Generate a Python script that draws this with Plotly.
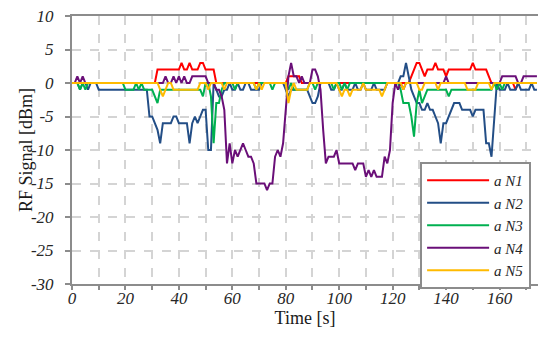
import plotly.graph_objects as go

time_s = list(range(0, 175))

# RF signal [dBm] per node, sampled every 1 s (t = 0..174)
a_N1 = ([0] * 31 + [0] + [2] * 9 + [3, 2, 2, 3, 2, 2, 2, 3, 3, 2, 2, 2, 2, 0]
        + [0] * 26 + [1, 1, 1, 1, 1]
        + [0] * 41
        + [1, 2, 3, 3, 2, 1, 2, 2, 2, 3, 2, 2, 2, 1, 2, 2, 2, 2, 2, 2, 2, 2, 2, 3, 2, 2, 2, 2, 2, 1, 0]
        + [0] * 8 + [-1] + [0] * 7)

a_N2 = ([0, 0, 0, -1, 0, 0, -1, 0, 0, 0] + [-1] * 19
        + [-5, -5, -6, -7, -9, -6, -6, -6, -6, -5, -5, -6, -6, -6, -6, -9, -6, -5, -6, -5, -4, -4, -10, -10, 0]
        + [-1, -2, -2, -1, -1, 0, -1, -1, 0, -1, -1, 0, 0, -1, -1, -1, -1]
        + [0] * 9
        + [-1, -2, -1, -1, -1, -1, -1, -1, -1, -2, -3, -3, -2, 0, 0, 0, 0, -1, -1, 0, -1, -1, 0, -1, -1, -1, 0,
           -1, -1, 0, -1, -1, -1, 0, -1, -1, -1, -1, 0, 0, 0, 0, 0, 1, 1, 3, 1, -1, -2, -3, -3, -4, -4, -3,
           -4, -4, -5, -6, -9, -6, -6, -5, -4, -3, -3, -3, -4, -4, -4, -4, -5, -4, -4, -4, -4, -9, -9, -11, -5, 0]
        + [-1, -1, -1, 0, -1, -1, -1, 0, -1, -1, -1, -1, 0, -1, -1])

a_N3 = ([0, 0, 0, -1, 0, -1, 0] + [0] * 13
        + [-1, -1, -1, -1, 0, -1, 0, -1, -1, -1, -1, -2, -3, -1] + [-1] * 15
        + [-2, 0, 0, -2, -9, -3, -3, -1, 0]
        + [0, 0, 0, -1, 0, 0, 0, 0, 0, 0, 0, -1, 0, 0, 0, 0, 0, -1, 0, 0, 0, 0, 0, -1, 0]
        + [-1, -1, -1, -1, -1, -1, 0, 0, -1, 0, 0, 0, 0, 0, 0, -1, 0, 0, -1, 0, -1]
        + [0] * 19
        + [-1, -3, -3, -3, -5, -8, -3, -1, -3, -2] + [-1] * 8 + [-2] + [-1] * 16
        + [0, -1, 0, -1, 0] + [0] * 15)

a_N4 = ([0, 0, 1, 0, 1, 0] + [0] * 29
        + [1, 0, 0, 1, 0, 1, 0, 1, 0, 0, 1, 1, 1, 1, 1, 1, 0, 0, 0, -1, -1, -2, -4]
        + [-12, -9, -12, -10, -11, -10, -9, -10, -11, -11, -12, -15, -15, -15, -15, -16, -15, -15,
           -11, -10, -11, -9, -4, 1, 3, 1, 1]
        + [0, 1, 0, 0, 0, 2, 2, 1, -1, -7, -12, -11, -11, -11, -10, -12, -12, -12, -12, -12, -12,
           -13, -12, -12, -12, -14, -13, -14, -13, -14, -14, -14, -11, -12, -10, -3, 0, -1, 0, -1]
        + [0] * 15 + [1] + [0] * 20 + [1] * 6 + [0, 0] + [1] * 6)

a_N5 = ([0] * 33 + [-1, -2, -1, 0, 0] + [-1] * 10
        + [0, 0, 0, -1, 0, 0, 0, 0, 0, -1] + [0] * 11 + [-1, 0, -1] + [0] * 9
        + [-3, -1, 0, -1, -1, -1, -1, -1] + [0] * 11
        + [-1, -2, -1, -1, -2, -1, -1, -1, -1, 0, -1, -1, -1, -1, -1, -1, -2, -1, 0]
        + [0, 0, 0, 0, 0, -1, 0, 0, 0, 0, 0, -1, -1] + [0] * 5 + [-1] + [0] * 10
        + [-1, -1, -1, -1] + [0] * 5 + [-1] + [0] * 17)

series_names = ["a N1", "a N2", "a N3", "a N4", "a N5"]
series_values = [a_N1, a_N2, a_N3, a_N4, a_N5]
series_colors = ["#FF0000", "#234E86", "#00B050", "#6A0F78", "#FFBA00"]

y_tick_vals = [10, 5, 0, -5, -10, -15, -20, -25, -30]
y_tick_text = ["10", "5", "0", "-5", "-10", "-15", "-20", "-25", "-30"]
x_tick_vals = list(range(0, 171, 10))
x_tick_text = [str(v) if v % 20 == 0 else "" for v in x_tick_vals]
y_title = "RF Signal [dBm]"
x_title = "Time [s]"

fig = go.Figure()
for name, vals, col in zip(series_names, series_values, series_colors):
    n = min(len(vals), len(time_s))
    fig.add_trace(go.Scatter(x=time_s[:n], y=vals[:n], mode="lines", name=name,
                             line=dict(color=col, width=2)))

serif = "Times New Roman, Liberation Serif, serif"
tick_font = dict(family=serif, size=17, color="#262626", style="italic")
title_font = dict(family=serif, size=18, color="#1a1a1a")

fig.update_layout(
    width=538, height=340, autosize=False,
    margin=dict(l=72, r=0, t=16, b=56),
    paper_bgcolor="white", plot_bgcolor="white",
    showlegend=True,
    legend=dict(x=0.747, y=0.455, xanchor="left", yanchor="top",
                bgcolor="white", bordercolor="#8c8c8c", borderwidth=2,
                font=dict(family=serif, size=15, color="#262626", style="italic"),
                tracegroupgap=0, itemwidth=62),
    xaxis=dict(range=[0, 174.4], tickvals=x_tick_vals, ticktext=x_tick_text,
               showgrid=True, gridcolor="#d4d4d4", griddash="dash", gridwidth=1.5,
               showline=True, linecolor="#8c8c8c", linewidth=2, mirror=True,
               ticks="outside", ticklen=4, tickcolor="#8c8c8c", tickwidth=1.5,
               ticklabelstandoff=-6, ticklabeloverflow="allow",
               zeroline=False,
               tickfont=tick_font,
               title=dict(text=x_title, font=title_font, standoff=2)),
    yaxis=dict(range=[-30, 10], tickvals=y_tick_vals, ticktext=y_tick_text,
               showgrid=True, gridcolor="#d4d4d4", griddash="dash", gridwidth=1.5,
               showline=True, linecolor="#8c8c8c", linewidth=2,
               ticks="outside", ticklen=5, tickcolor="#8c8c8c", tickwidth=1.5,
               ticklabelstandoff=8, ticklabeloverflow="allow",
               zeroline=False,
               tickfont=tick_font),
    annotations=[dict(text=y_title, xref="paper", yref="paper", x=0, y=0.5,
                      xanchor="center", yanchor="middle", xshift=-46, textangle=-90,
                      showarrow=False, font=title_font)],
)

# remove the page's default body margin so the 538x340 figure fills the window
post = ("document.body.style.margin='0';document.body.style.overflow='hidden';"
        "var gd=document.getElementById('{plot_id}');"
        "gd.style.width='538px';gd.style.height='340px';"
        "Plotly.relayout(gd,{width:538,height:340});")

fig.write_html("out.html", post_script=post,
               config={"displayModeBar": False, "responsive": False})
